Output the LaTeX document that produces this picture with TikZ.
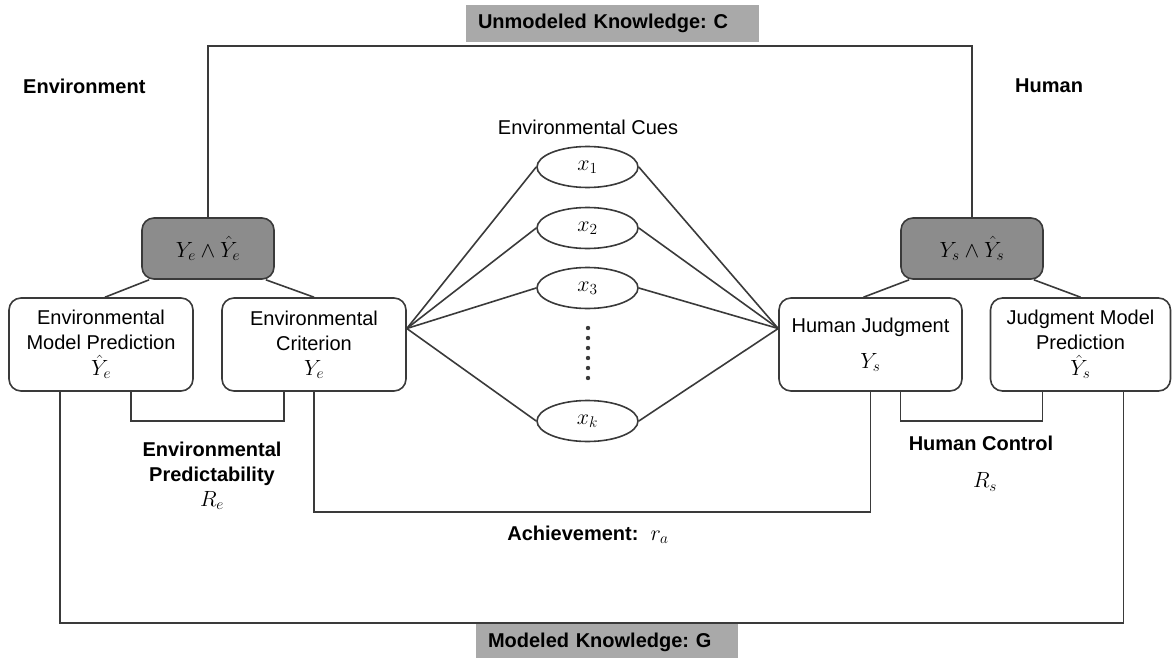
\RequirePackage{fix-cm}
\documentclass[tikz,border=0pt]{standalone}
\usepackage{fontspec}
\setmainfont{Liberation Sans}
\usepackage{amsmath}
\usepackage{tikz}
\usetikzlibrary{shapes.geometric}
\frenchspacing

\definecolor{linegray}{HTML}{3A3A3A}
\definecolor{andgray}{HTML}{8C8C8C}
\definecolor{taggray}{HTML}{A9A9A9}

\newcommand{\mth}[1]{{\fontsize{22}{25}\selectfont$#1$}}

\tikzset{
  link/.style={draw=linegray, line width=1.6pt},
  lensbox/.style={draw=linegray, line width=1.6pt, rounded corners=12pt, fill=white,
    minimum width=184pt, minimum height=93pt, align=center, inner sep=0pt},
  andbox/.style={lensbox, fill=andgray, minimum width=132pt, minimum height=61pt},
  cue/.style={ellipse, draw=linegray, line width=1.6pt, minimum width=101pt, minimum height=41pt, inner sep=0pt},
  tag/.style={fill=taggray, minimum height=37pt, inner xsep=12pt, align=left, font=\fontsize{20}{25}\selectfont\bfseries},
  headtxt/.style={font=\fontsize{20}{25}\selectfont\bfseries, align=center, inner sep=0pt}
}

\begin{document}
\begin{tikzpicture}[x=1pt, y=-1pt, every node/.append style={font=\fontsize{20}{25}\selectfont}]
\useasboundingbox (0,0) rectangle (1172,658);

\node [tag, text width=269pt] (unmod) at (612.5,23.5) {Unmodeled Knowledge: C};
\node [tag, text width=238pt] (mod) at (607,642.5) {Modeled Knowledge: G};

\node [headtxt, anchor=west] (envhead) at (23,86) {Environment};
\node [headtxt, anchor=west] (humhead) at (1015,86) {Human};

\node [andbox] (ande) at (208,248.5) {\mth{Y_e \wedge \hat{Y}_e}};
\node [andbox, minimum width=142pt] (ands) at (972,248.5) {\mth{Y_s \wedge \hat{Y}_s}};

\node [lensbox] (envpred) at (101,344.5) {Environmental\\Model Prediction\\[1pt]\mth{\hat{Y}_e}};
\node [lensbox] (envcrit) at (314,344.5) {Environmental\\Criterion\\\mth{Y_e}};
\node [lensbox, minimum width=183pt] (humjudg) at (870.5,344.5) {Human Judgment\\[11pt]\mth{Y_s}};
\node [lensbox, minimum width=180pt] (judgpred) at (1080.5,344.5) {Judgment Model\\Prediction\\[1pt]\mth{\hat{Y}_s}};

\node [inner sep=0pt] (cuehead) at (588,127) {Environmental Cues};
\foreach \n/\y in {1/167, 2/228, 3/288}
  \node [cue] (x\n) at (587.5,\y) {\mth{x_{\n}}};
\node [cue] (xk) at (587.5,421) {\mth{x_k}};
\node [inner sep=0pt, minimum width=6pt, minimum height=54pt] (dots) at (588,353) {};
\foreach \k in {0,...,5}
  \fill [linegray] (588,328+10*\k) circle (2.2);

\node [headtxt] (predlab) at (212,476) {Environmental\\Predictability\\\mth{R_e}};
\node [headtxt] (ctrllab) at (981,443) {Human Control};
\node [inner sep=0pt] (rslab) at (985,482) {\mth{R_s}};
\node [headtxt] (achlab) at (588,535) {Achievement:\hspace{12pt}\mth{r_a}};

\coordinate (topline) at (0,46);
\coordinate (modline) at (0,623);
\coordinate (achline) at (0,512);
\coordinate (brkline) at (0,421);

\draw [link] (ande.north) -- (ande.north |- topline) -| (ands.north);

\draw [link] ([xshift=8pt]ande.south west) -- ([xshift=4pt]envpred.north);
\draw [link] ([xshift=-9pt]ande.south east) -- (envcrit.north);
\draw [link] ([xshift=9pt]ands.south west) -- ([xshift=-7pt]humjudg.north);
\draw [link] ([xshift=-10pt]ands.south east) -- (judgpred.north);

\foreach \c in {x1,x2,x3,xk} {
  \draw [link] ([yshift=16pt]envcrit.east) -- (\c.west);
  \draw [link] (\c.east) -- ([yshift=16pt]humjudg.west);
}

\draw [link] ([xshift=-41pt]envpred.south) -- ([xshift=-41pt]envpred.south |- modline) -| ([xshift=43pt]judgpred.south);
\draw [link] ([xshift=30pt]envpred.south) -- ([xshift=30pt]envpred.south |- brkline) -| ([xshift=-30pt]envcrit.south);
\draw [link] (envcrit.south) -- (envcrit.south |- achline) -| (humjudg.south);
\draw [link] ([xshift=30pt]humjudg.south) -- ([xshift=30pt]humjudg.south |- brkline) -| ([xshift=-38pt]judgpred.south);
\end{tikzpicture}
\end{document}
